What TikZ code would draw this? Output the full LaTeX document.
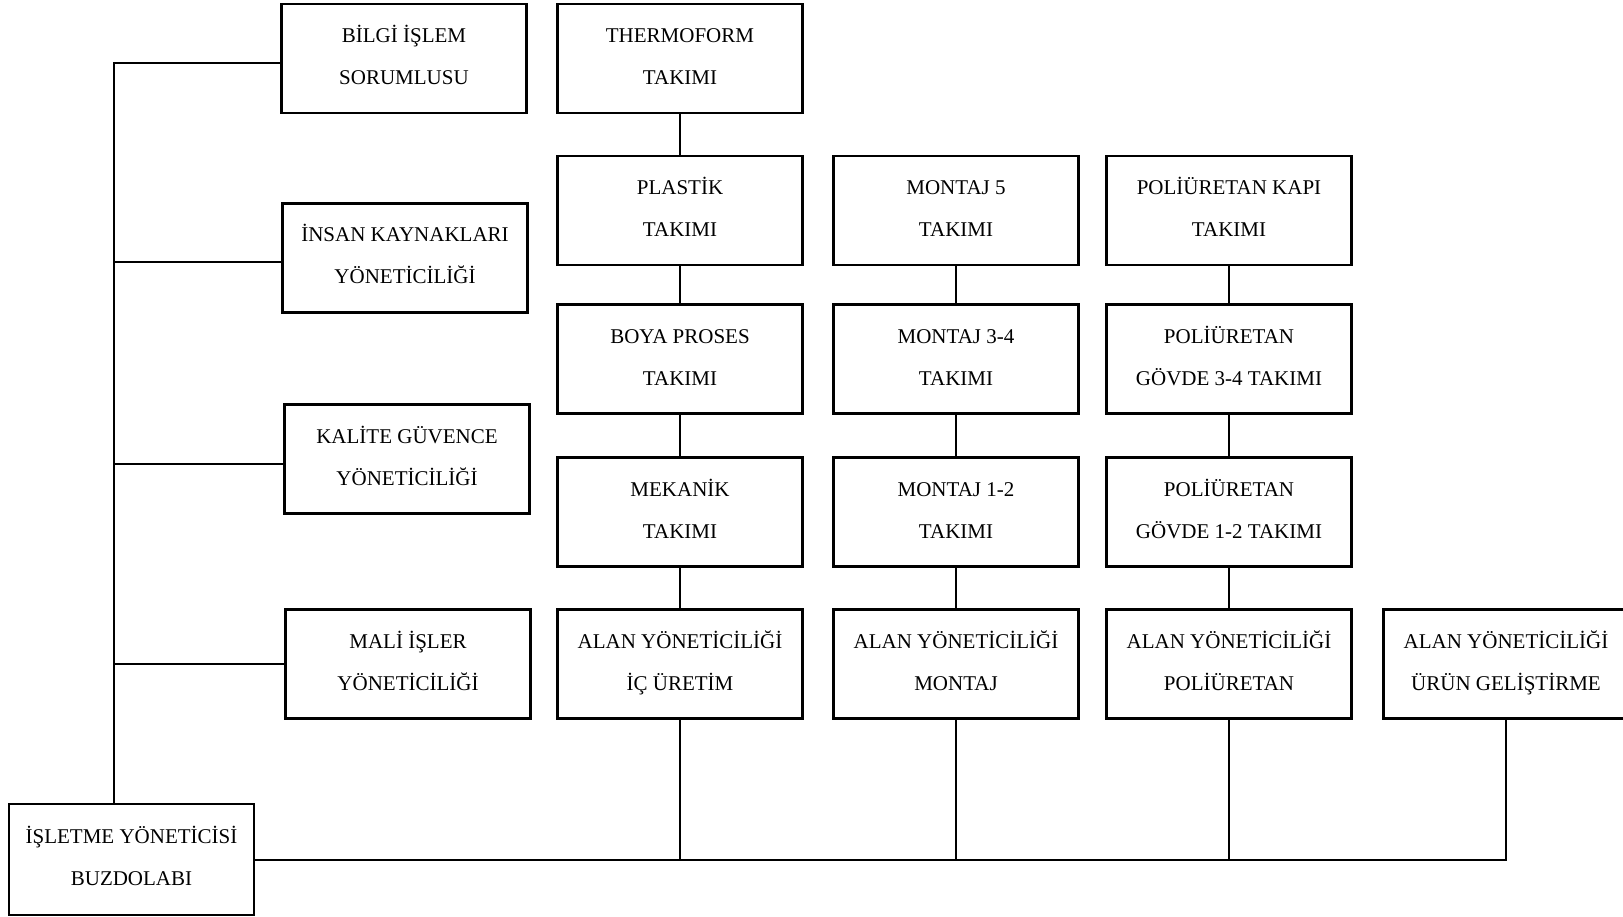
\documentclass[tikz,border=0pt]{standalone}
\usepackage{fontspec}
\setmainfont{Liberation Serif}
\begin{document}
\begin{tikzpicture}[x=1pt,y=-1pt,
  unit/.style={draw, line width=2.4pt, minimum width=245pt, minimum height=109pt,
    inner sep=0pt, align=center, text height=56pt, text depth=4pt,
    font=\fontsize{21}{42}\selectfont},
  link/.style={line width=2pt}]
\useasboundingbox (0,0) rectangle (1623,917);

% staff units on the left
\node[unit] (bilgi)  at (404,58.5) {BİLGİ İŞLEM\\SORUMLUSU};
\node[unit] (insan)  at (405,258)  {İNSAN KAYNAKLARI\\YÖNETİCİLİĞİ};
\node[unit] (kalite) at (407,459)  {KALİTE GÜVENCE\\YÖNETİCİLİĞİ};
\node[unit] (mali)   at (408,664)  {MALİ İŞLER\\YÖNETİCİLİĞİ};
\node[unit, minimum height=111pt] (isletme) at (131.5,859.5) {İŞLETME YÖNETİCİSİ\\BUZDOLABI};

% in-house production teams
\node[unit] (thermo)  at (680,58.5) {THERMOFORM\\TAKIMI};
\node[unit] (plastik) at (680,210.5) {PLASTİK\\TAKIMI};
\node[unit] (boya)    at (680,359)  {BOYA PROSES\\TAKIMI};
\node[unit] (mekanik) at (680,512)  {MEKANİK\\TAKIMI};
\node[unit] (alanic)  at (680,664)  {ALAN YÖNETİCİLİĞİ\\İÇ ÜRETİM};

% assembly teams
\node[unit] (montajb) at (956,210.5) {MONTAJ 5\\TAKIMI};
\node[unit] (montajc) at (956,359)  {MONTAJ 3-4\\TAKIMI};
\node[unit] (montaja) at (956,512)  {MONTAJ 1-2\\TAKIMI};
\node[unit] (alanmon) at (956,664)  {ALAN YÖNETİCİLİĞİ\\MONTAJ};

% polyurethane teams
\node[unit] (polkapi) at (1229,210.5) {POLİÜRETAN KAPI\\TAKIMI};
\node[unit] (polgc)   at (1229,359)  {POLİÜRETAN\\GÖVDE 3-4 TAKIMI};
\node[unit] (polga)   at (1229,512)  {POLİÜRETAN\\GÖVDE 1-2 TAKIMI};
\node[unit] (alanpol) at (1229,664)  {ALAN YÖNETİCİLİĞİ\\POLİÜRETAN};

% product development
\node[unit] (alanurun) at (1506,664) {ALAN YÖNETİCİLİĞİ\\ÜRÜN GELİŞTİRME};

% trunk on the left
\coordinate (tk) at (114,0);
\draw[link] ([yshift=-4.5pt]bilgi.west) -- ([yshift=-4.5pt]bilgi.west -| tk) -- (isletme.north -| tk);
\foreach \n in {insan,kalite}
  \draw[link] ([yshift=-4.5pt]\n.west) -- ([yshift=-4.5pt]\n.west -| tk);
\draw[link] (mali.west) -- (mali.west -| tk);

% team chains
\draw[link] (thermo.south) -- (plastik.north);
\draw[link] (plastik.south) -- (boya.north);
\draw[link] (boya.south) -- (mekanik.north);
\draw[link] (mekanik.south) -- (alanic.north);
\draw[link] (montajb.south) -- (montajc.north);
\draw[link] (montajc.south) -- (montaja.north);
\draw[link] (montaja.south) -- (alanmon.north);
\draw[link] (polkapi.south) -- (polgc.north);
\draw[link] (polgc.south) -- (polga.north);
\draw[link] (polga.south) -- (alanpol.north);

% bus to the area managers
\draw[link] (isletme.east) -- (alanurun.south |- isletme.east) -- (alanurun.south);
\foreach \n in {alanic,alanmon,alanpol}
  \draw[link] (\n.south) -- (\n.south |- isletme.east);
\end{tikzpicture}
\end{document}
